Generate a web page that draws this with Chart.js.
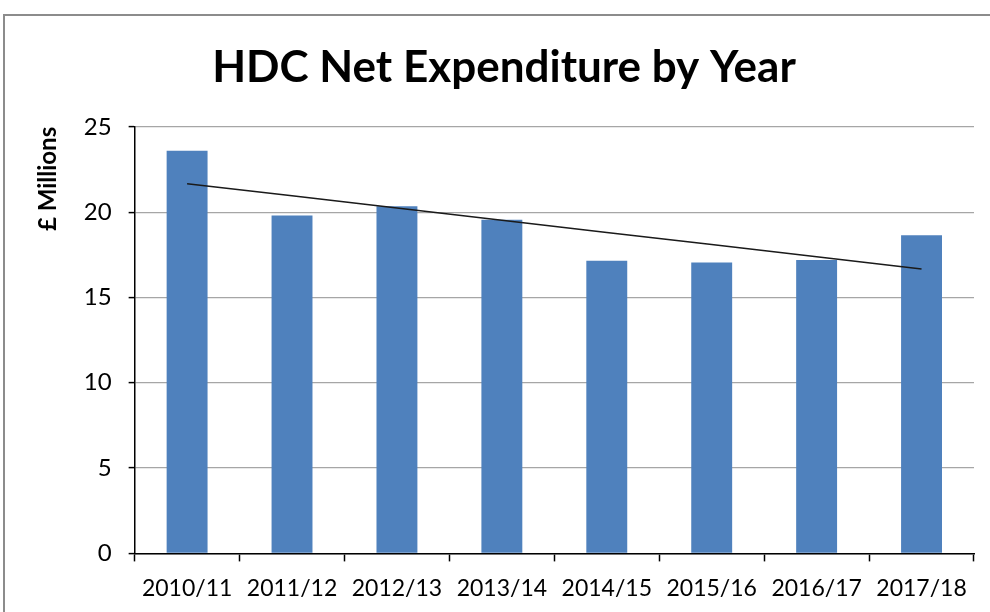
<!DOCTYPE html>
<html>
<head>
<meta charset="utf-8">
<script src="https://cdn.jsdelivr.net/npm/chart.js@4.4.1/dist/chart.umd.min.js"></script>
<style>
  html, body { margin: 0; padding: 0; background: #fff; overflow: hidden; }
  body { width: 990px; height: 612px; position: relative; }
  #frame {
    position: absolute; left: 3px; top: 14px; width: 1020px; height: 640px;
    border: 2px solid #8c8c8c; box-sizing: border-box;
  }
  #wrap { position: absolute; left: 4px; top: 16px; width: 1000px; height: 600px; }
</style>
</head>
<body>
<div id="frame"></div>
<div id="wrap"><canvas id="expChart"></canvas></div>
<script>
const years = ['2010/11', '2011/12', '2012/13', '2013/14', '2014/15', '2015/16', '2016/17', '2017/18'];
const netSpend = [23.6, 19.8, 20.35, 19.55, 17.15, 17.05, 17.2, 18.65];
const yTicks = [0, 5, 10, 15, 20, 25];

const barBlue = '#4f81bd';
const fontFamily = 'Lato, "Open Sans", sans-serif';

// least squares line through the yearly totals, like an Excel linear trendline
function linearTrend(vals) {
    let n = vals.length
    let mx = (n + 1) / 2
    let my = vals.reduce((a, b) => a + b, 0) / n
    let sxy = 0, sxx = 0
    vals.forEach((v, i) => {
        sxy += (i + 1 - mx) * (v - my)
        sxx += (i + 1 - mx) * (i + 1 - mx)
    })
    let slope = sxy / sxx
    return vals.map((v, i) => my + slope * (i + 1 - mx))
}

let ctx = document.getElementById('expChart').getContext('2d');

const config = {
    type: 'bar',
    data: {
        labels: years,
        datasets: [{
            type: 'line',
            data: linearTrend(netSpend),
            borderColor: '#1a1a1a',
            borderWidth: 1.5,
            pointRadius: 0,
            fill: false,
            order: 0
        }, {
            type: 'bar',
            data: netSpend,
            backgroundColor: barBlue,
            borderWidth: 0,
            barPercentage: 0.39,
            categoryPercentage: 1,
            order: 1
        }]
    },
    options: {
        responsive: true,
        maintainAspectRatio: false,
        animation: { duration: 0 },
        layout: { padding: { left: 30, right: 30, top: 0, bottom: 1 } },
        scales: {
            x: {
                grid: {
                    display: true,
                    drawOnChartArea: false,
                    offset: true,
                    tickLength: 8,
                    tickColor: '#000',
                    tickWidth: 1.5
                },
                border: { color: '#000', width: 1.5 },
                ticks: {
                    color: '#000',
                    padding: 13,
                    maxRotation: 0,
                    font: { family: fontFamily, size: 23 }
                }
            },
            y: {
                min: 0,
                max: 25,
                afterBuildTicks: (scale) => {
                    scale.ticks = yTicks.map(v => ({ value: v }))
                },
                grid: {
                    color: '#a6a6a6',
                    lineWidth: 1.2,
                    tickLength: 6,
                    tickColor: '#000',
                    tickWidth: 1.5
                },
                border: { color: '#000', width: 1.5 },
                ticks: {
                    color: '#000',
                    padding: 17,
                    font: { family: fontFamily, size: 24 }
                },
                title: {
                    display: true,
                    text: '£ Millions',
                    align: 'end',
                    color: '#000',
                    padding: { top: 0, bottom: 4 },
                    font: { family: fontFamily, size: 24, weight: 'bold' }
                }
            }
        },
        plugins: {
            legend: { display: false },
            tooltip: { enabled: false },
            title: {
                display: true,
                text: 'HDC Net Expenditure by Year',
                color: '#000',
                padding: { top: 25, bottom: 33 },
                font: { family: fontFamily, size: 44, weight: 'bold' }
            }
        }
    }
};

new Chart(ctx, config);
</script>
</body>
</html>
